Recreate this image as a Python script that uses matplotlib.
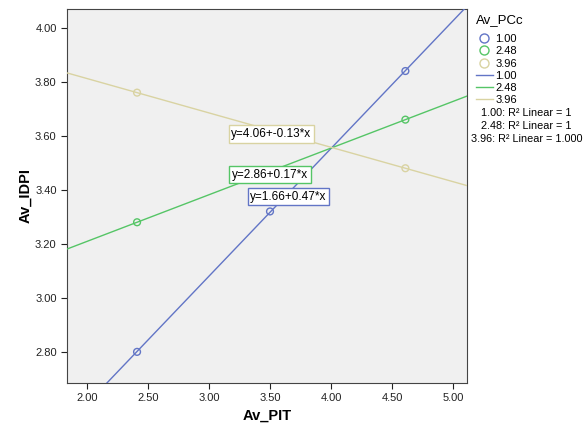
import numpy as np
import matplotlib.pyplot as plt
from matplotlib.lines import Line2D

plt.rcParams['font.family'] = ['Liberation Sans', 'DejaVu Sans']

# ── Data ─────────────────────────────────────────────────────────────────────
groups = ["1.00", "2.48", "3.96"]
x_pts = {
    "1.00": [2.41, 3.50, 4.61],
    "2.48": [2.41, 4.61],
    "3.96": [2.41, 4.61],
}
y_pts = {
    "1.00": [2.80, 3.32, 3.84],
    "2.48": [3.28, 3.66],
    "3.96": [3.76, 3.48],
}
equations = {
    "1.00": "y=1.66+0.47*x",
    "2.48": "y=2.86+0.17*x",
    "3.96": "y=4.06+-0.13*x",
}
r2_labels = ["1.00: R² Linear = 1", "2.48: R² Linear = 1",
             "3.96: R² Linear = 1.000"]
xticks = [2.0, 2.5, 3.0, 3.5, 4.0, 4.5, 5.0]
yticks = [2.8, 3.0, 3.2, 3.4, 3.6, 3.8, 4.0]

colors = {"1.00": "#6275c6", "2.48": "#55c566", "3.96": "#d9d3a2"}
eq_pos = {"1.00": (3.65, 3.374), "2.48": (3.50, 3.456), "3.96": (3.51, 3.607)}

# ── Plot ─────────────────────────────────────────────────────────────────────
fig = plt.figure(figsize=(5.83, 4.25), dpi=100)
fig.patch.set_facecolor("white")
ax = fig.add_axes([0.115, 0.099, 0.686, 0.880])
ax.set_facecolor("#f0f0f0")

xlim = (1.836, 5.115)
ylim = (2.685, 4.07)
xs = np.array(xlim)

for g in groups:
    c = colors[g]
    ax.scatter(x_pts[g], y_pts[g], s=24, facecolors="none", edgecolors=c,
               linewidths=1.0, zorder=4)
    b, a = np.polyfit(x_pts[g], y_pts[g], 1)
    ax.plot(xs, a + b * xs, color=c, lw=1.0, zorder=3)
    ex, ey = eq_pos[g]
    ax.text(ex, ey, equations[g], fontsize=8.5, ha="center", va="center",
            zorder=5,
            bbox=dict(boxstyle="square,pad=0.22", facecolor="white",
                      edgecolor=c, lw=1.0))

ax.set_xlim(*xlim)
ax.set_ylim(*ylim)
ax.set_xticks(xticks)
ax.set_yticks(yticks)
ax.set_xticklabels([f"{v:.2f}" for v in xticks])
ax.set_yticklabels([f"{v:.2f}" for v in yticks])
ax.tick_params(labelsize=8, colors="#222222", length=4, width=0.8)
for spine in ax.spines.values():
    spine.set_color("#444444")
    spine.set_linewidth(0.8)

ax.set_xlabel("Av_PIT", fontsize=10.5, fontweight="bold", labelpad=4)
ax.set_ylabel("Av_IDPI", fontsize=10.5, fontweight="bold", labelpad=2)

# ── Legend ───────────────────────────────────────────────────────────────────
handles = []
labels = []
for g in groups:
    handles.append(Line2D([], [], ls="none", marker="o", markersize=6.5,
                          markerfacecolor="none", markeredgecolor=colors[g],
                          markeredgewidth=1.0))
    labels.append(g)
for g in groups:
    handles.append(Line2D([], [], color=colors[g], lw=1.0))
    labels.append(g)
leg = fig.legend(handles, labels, title="Av_PCc", loc="upper left",
                 bbox_to_anchor=(0.808, 0.978), frameon=False, fontsize=8,
                 title_fontsize=9.5, handlelength=1.6, handletextpad=0.2,
                 labelspacing=0.20, borderaxespad=0)
leg._legend_box.align = "left"
leg._legend_box.sep = 6

for i, lab in enumerate(r2_labels):
    fig.text(0.903, 0.733 - i * 0.030, lab, fontsize=7.8, ha="center",
             va="center")

plt.savefig("out.png", dpi=100, facecolor=fig.get_facecolor())
plt.close()
